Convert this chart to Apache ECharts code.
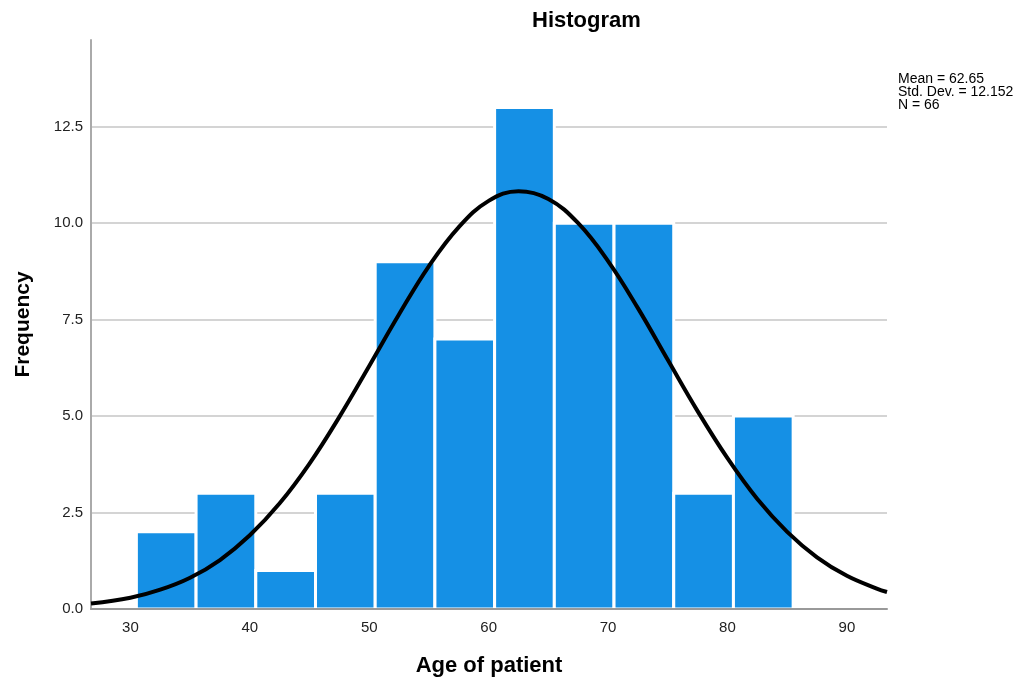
<!DOCTYPE html>
<html>
<head>
<meta charset="utf-8">
<title>Histogram</title>
<script src="https://cdn.jsdelivr.net/npm/echarts@6/dist/echarts.min.js"></script>
<style>
    html, body { margin: 0; padding: 0; background: #fff; }
    #main { width: 1029px; height: 682px; }
</style>
</head>
<body>
<div id="main"></div>
<script>
// 直方图数据 (组距 5)
var binStart = [30.5, 35.5, 40.5, 45.5, 50.5, 55.5, 60.5, 65.5, 70.5, 75.5, 80.5];
var binWidth = 5;
var counts = [2, 3, 1, 3, 9, 7, 13, 10, 10, 3, 5];

// 正态曲线
var curveX = [26.7, 30, 32.5, 35, 37.5, 40, 42.5, 45, 47.5, 50, 52.5, 55, 57.5, 60, 62.5,
    65, 67.5, 70, 72.5, 75, 77.5, 80, 82.5, 85, 87.5, 90, 92.5, 93.36];
var curveY = [0.14, 0.29, 0.50, 0.81, 1.27, 1.91, 2.74, 3.77, 4.98, 6.30, 7.64, 8.89, 9.90, 10.58, 10.83,
    10.63, 10.00, 9.02, 7.80, 6.46, 5.13, 3.91, 2.85, 2.00, 1.34, 0.86, 0.53, 0.44];

var statLines = ['Mean = 62.65', 'Std. Dev. = 12.152', 'N = 66'];

var chart = echarts.init(document.getElementById('main'));

var barData = binStart.map(function(s, i) {
    return [s, counts[i], s + binWidth];
});
var curveData = curveX.map(function(x, i) {
    return [x, curveY[i]];
});

var font = 'Liberation Sans, Arial, sans-serif';

var option = {
    animation: false,
    backgroundColor: '#fff',
    grid: {
        left: 91,
        right: 142,
        top: 40,
        bottom: 73
    },
    xAxis: {
        type: 'value',
        z: 10,
        min: 26.7,
        max: 93.36,
        name: 'Age of patient',
        nameLocation: 'middle',
        nameGap: 46,
        nameTextStyle: {
            color: '#000',
            fontSize: 22,
            fontWeight: 'bold',
            fontFamily: font
        },
        axisLine: {
            lineStyle: { color: '#999', width: 2 }
        },
        axisTick: { show: false },
        splitLine: { show: false },
        axisLabel: {
            showMinLabel: false,
            showMaxLabel: false,
            margin: 11,
            color: '#222',
            fontSize: 15,
            fontFamily: font,
            formatter: function(v) { return v % 10 === 0 ? String(v) : ''; }
        }
    },
    yAxis: {
        type: 'value',
        min: 0,
        max: 14.75,
        interval: 2.5,
        name: 'Frequency',
        nameLocation: 'middle',
        nameGap: 57,
        nameTextStyle: {
            color: '#000',
            fontSize: 21,
            fontWeight: 'bold',
            fontFamily: font
        },
        axisLine: {
            show: true,
            lineStyle: { color: '#aaa', width: 2 }
        },
        axisTick: { show: false },
        splitLine: {
            show: true,
            showMinLine: false,
            showMaxLine: false,
            lineStyle: { color: '#d4d4d4', width: 2 }
        },
        axisLabel: {
            showMaxLabel: false,
            margin: 8,
            color: '#222',
            fontSize: 15,
            fontFamily: font,
            formatter: function(v) { return v.toFixed(1); }
        }
    },
    graphic: [{
        type: 'text',
        left: 587 - 55,
        top: 10,
        style: {
            text: 'Histogram',
            fill: '#000',
            font: 'bold 22px ' + font
        }
    }, {
        type: 'text',
        left: 898,
        top: 72,
        style: {
            text: statLines.join('\n'),
            fill: '#000',
            font: '14px ' + font,
            lineHeight: 13
        }
    }],
    series: [{
        type: 'custom',
        z: 2,
        encode: { x: [0, 2], y: 1 },
        data: barData,
        renderItem: function(params, api) {
            var start = api.coord([api.value(0), api.value(1)]);
            var end = api.coord([api.value(2), 0]);
            return {
                type: 'rect',
                shape: {
                    x: start[0],
                    y: start[1],
                    width: end[0] - start[0],
                    height: end[1] - start[1]
                },
                style: {
                    fill: '#1590e5',
                    stroke: '#fff',
                    lineWidth: 3
                }
            };
        }
    }, {
        type: 'line',
        z: 3,
        smooth: 0.4,
        showSymbol: false,
        data: curveData,
        lineStyle: { color: '#000', width: 4 }
    }]
};

chart.setOption(option);
</script>
</body>
</html>
